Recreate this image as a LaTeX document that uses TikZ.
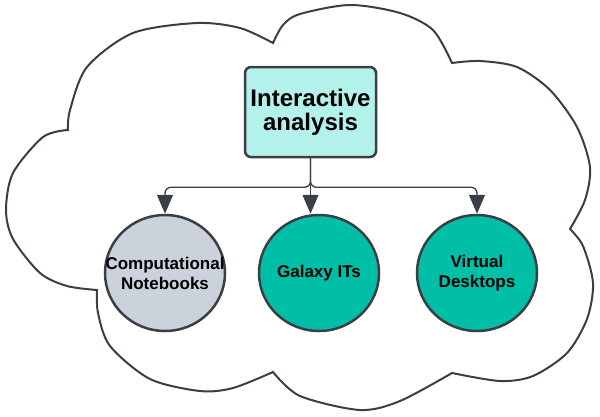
\documentclass[tikz,border=0pt]{standalone}
\usepackage{fontspec}
\setmainfont{Liberation Sans}
\usepackage{tikz}
\usetikzlibrary{arrows.meta, positioning, shapes.geometric}
\definecolor{edgegray}{HTML}{3A3E45}
\definecolor{aqua}{HTML}{B3F2EA}
\definecolor{slate}{HTML}{CBD2DB}
\definecolor{teal}{HTML}{00BFA6}
\tikzset{%
	title/.style={draw=edgegray, line width=2.5pt, rounded corners=6pt, fill=aqua,%
		minimum width=131pt, minimum height=90pt, align=center,%
		font=\bfseries\fontsize{24}{24}\selectfont},
	topic/.style={draw=edgegray, ellipse, line width=2.5pt, minimum width=120pt,%
		minimum height=116pt, inner sep=0pt},
	topictext/.style={align=center, inner sep=0pt, font=\bfseries\fontsize{17}{20}\selectfont},
	link/.style={draw=edgegray, line width=1.3pt, rounded corners=6pt,%
		-{Triangle[width=16pt, length=19pt]}},
	cloudline/.style={draw=edgegray, line width=2pt, line join=miter}
}
\begin{document}
\begin{tikzpicture}[x=1pt, y=-1pt]
	\useasboundingbox (0,0) rectangle (600,416);

	% cloud outline, one lobe at a time
	\draw[cloudline] plot[smooth] coordinates {(68,130) (70,110) (87,67) (133,33) (197,23) (240,28) (273,43)}
		-- plot[smooth] coordinates {(273,43) (283,25) (300,14) (350,5) (400,13) (433,30) (452,63)}
		-- plot[smooth] coordinates {(452,63) (480,61) (517,67) (550,90) (577,127) (590,167) (585,200) (570,229)}
		-- plot[smooth] coordinates {(570,229) (583,246) (593,283) (587,319) (567,353) (533,376) (500,381) (452,373)}
		-- plot[smooth] coordinates {(452,373) (400,401) (360,410) (300,396) (273,372)}
		-- plot[smooth] coordinates {(273,372) (233,388) (200,391) (150,379) (110,346) (98,313) (97,290)}
		-- plot[smooth] coordinates {(97,290) (67,286) (40,273) (13,239) (6,210) (13,173) (43,137) (68,130)}
		-- cycle;

	\node[title] (ia) at (310.5,112) {Interactive\\analysis};
	\node[topic, fill=slate, label={[topictext]center:Computational\\Notebooks}] (cn) at (165,273) {};
	\node[topic, fill=teal, label={[topictext]center:Galaxy ITs}] (gx) at (319,273) {};
	\node[topic, fill=teal, label={[topictext]center:Virtual\\Desktops}] (vd) at (477,273) {};

	\draw[link] (ia.south) -- ++(0,29) -| (cn.north);
	\draw[link] (ia.south) -- (ia.south |- gx.north);
	\draw[link] (ia.south) -- ++(0,29) -| (vd.north);
\end{tikzpicture}
\end{document}
